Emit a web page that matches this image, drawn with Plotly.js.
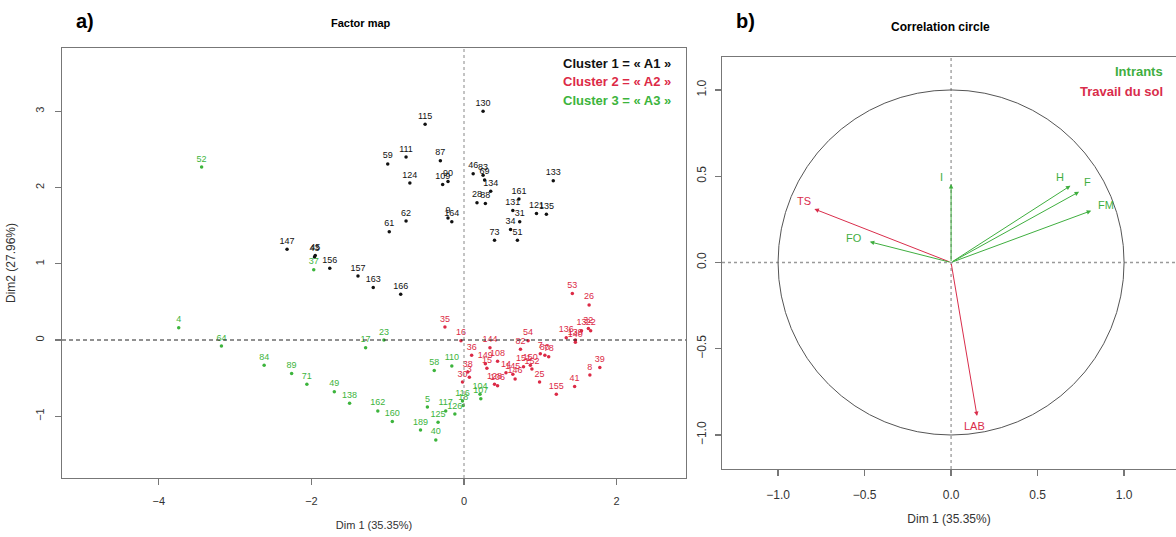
<!DOCTYPE html>
<html><head><meta charset="utf-8">
<script src="https://cdn.plot.ly/plotly-3.0.1.min.js"></script>
<style>html,body{margin:0;padding:0;background:#fff}#chart{width:1176px;height:537px}</style>
</head><body><div id="chart"></div>
<script>
// ---- Factor map: individuals per cluster ----
const c1Labels = ["147","43","45","156","157","163","166","59","61","62","111","115","87","124","109","90","9","164","130","46","83","69","134","28","88","161","131","31","34","51","73","121","135","133"];
const c1X = [-2.32,-1.96,-1.95,-1.76,-1.39,-1.19,-0.83,-1.00,-0.98,-0.76,-0.76,-0.51,-0.31,-0.71,-0.28,-0.21,-0.21,-0.16,0.25,0.12,0.25,0.27,0.35,0.17,0.28,0.72,0.64,0.73,0.61,0.70,0.40,0.95,1.08,1.17];
const c1Y = [1.19,1.09,1.11,0.94,0.84,0.69,0.60,2.31,1.42,1.56,2.40,2.83,2.35,2.06,2.04,2.08,1.60,1.55,3.00,2.18,2.16,2.10,1.95,1.80,1.79,1.85,1.70,1.55,1.45,1.31,1.31,1.66,1.65,2.09];

const c2Labels = ["53","26","35","16","36","144","54","82","149","108","15","38","30","3","14","145","146","106","128","150","151","152","7","78","80","25","155","41","8","39","13","32","22","136","139","140"];
const c2X = [1.42,1.64,-0.25,-0.04,0.10,0.34,0.84,0.74,0.28,0.44,0.30,0.05,-0.02,0.07,0.55,0.64,0.67,0.44,0.40,0.87,0.78,0.89,1.00,1.11,1.06,0.99,1.21,1.45,1.65,1.78,1.54,1.63,1.66,1.34,1.46,1.46];
const c2Y = [0.61,0.46,0.17,-0.01,-0.20,-0.10,-0.01,-0.12,-0.31,-0.28,-0.37,-0.42,-0.55,-0.49,-0.43,-0.45,-0.51,-0.60,-0.58,-0.33,-0.35,-0.38,-0.18,-0.22,-0.20,-0.55,-0.71,-0.61,-0.46,-0.36,0.12,0.15,0.12,0.03,0.00,-0.03];

const c3Labels = ["52","4","37","64","84","89","71","49","138","162","160","17","23","58","110","5","117","126","125","189","40","116","18","104","107"];
const c3X = [-3.44,-3.74,-1.97,-3.18,-2.62,-2.26,-2.06,-1.70,-1.50,-1.13,-0.94,-1.29,-1.05,-0.39,-0.16,-0.48,-0.24,-0.12,-0.34,-0.57,-0.37,-0.02,-0.01,0.21,0.22];
const c3Y = [2.27,0.16,0.92,-0.08,-0.33,-0.44,-0.58,-0.68,-0.83,-0.93,-1.07,-0.10,0.00,-0.40,-0.34,-0.88,-0.93,-0.97,-1.08,-1.18,-1.31,-0.80,-0.86,-0.71,-0.77];

const clusterNames = ["Cluster 1 = « A1 »","Cluster 2 = « A2 »","Cluster 3 = « A3 »"];

// ---- Correlation circle: variables ----
const varNames = ["I","H","F","FM","TS","FO","LAB"];
const varX = [0.00,0.69,0.74,0.81,-0.79,-0.47,0.15];
const varY = [0.455,0.445,0.41,0.30,0.31,0.12,-0.89];
const varGroup = ["Intrants","Intrants","Intrants","Intrants","Travail du sol","Intrants","Travail du sol"];
const groupNames = ["Intrants","Travail du sol"];

const xTicks1 = [-4,-2,0,2];
const yTicks1 = [-1,0,1,2,3];
const ticks2 = [-1.0,-0.5,0.0,0.5,1.0];

// ---- styles ----
const BLACK = "#111111", RED = "#dc2a46", GREEN = "#3cb43c";
const clusterColors = [BLACK, RED, GREEN];
const groupColors = {"Intrants": "#3fae3f", "Travail du sol": "#d92d4b"};
const FONT = "Liberation Sans, Arial, sans-serif";
// label offsets (pixels) for variable names, relative to arrow tip
const varLabelShift = [[-10,7],[-10,9],[8,10],[15,6],[-10,8],[-16,4],[-3,-10]];

function clusterTrace(labels, xs, ys, color) {
  return {
    type: "scatter", mode: "markers+text", x: xs, y: ys, text: labels,
    textposition: "top center",
    textfont: {family: FONT, size: 9, color: color},
    marker: {size: 3.5, color: color},
    xaxis: "x", yaxis: "y", hoverinfo: "text", showlegend: false, cliponaxis: false
  };
}

const traces = [
  clusterTrace(c1Labels, c1X, c1Y, clusterColors[0]),
  clusterTrace(c2Labels, c2X, c2Y, clusterColors[1]),
  clusterTrace(c3Labels, c3X, c3Y, clusterColors[2]),
  {type: "scatter", mode: "markers", x: [0], y: [0], marker: {size: 1, color: "rgba(0,0,0,0)"},
   xaxis: "x2", yaxis: "y2", showlegend: false, hoverinfo: "skip"}
];

const W = 1176, H = 537;
const px = v => v / W, py = v => 1 - v / H;

const annotations = [];
// panel tags and titles
annotations.push({xref:"paper", yref:"paper", x:px(85), y:py(21), text:"<b>a)</b>", showarrow:false,
  font:{family:FONT, size:20, color:"#000"}, xanchor:"center", yanchor:"middle"});
annotations.push({xref:"paper", yref:"paper", x:px(361), y:py(23), text:"<b>Factor map</b>", showarrow:false,
  font:{family:FONT, size:11, color:"#000"}, xanchor:"center", yanchor:"middle"});
annotations.push({xref:"paper", yref:"paper", x:px(745), y:py(21), text:"<b>b)</b>", showarrow:false,
  font:{family:FONT, size:20, color:"#000"}, xanchor:"center", yanchor:"middle"});
annotations.push({xref:"paper", yref:"paper", x:px(940), y:py(27), text:"<b>Correlation circle</b>", showarrow:false,
  font:{family:FONT, size:12, color:"#000"}, xanchor:"center", yanchor:"middle"});
// cluster legend
clusterNames.forEach((n, i) => {
  annotations.push({xref:"paper", yref:"paper", x:px(673), y:py(63 + 19 * i), text:"<b>" + n + "</b>",
    showarrow:false, font:{family:FONT, size:13, color:clusterColors[i]}, xanchor:"right", yanchor:"middle"});
});
// group legend
groupNames.forEach((g, i) => {
  annotations.push({xref:"paper", yref:"paper", x:px(1165), y:py(72 + 19 * i), text:"<b>" + g + "</b>",
    showarrow:false, font:{family:FONT, size:13, color:groupColors[g]}, xanchor:"right", yanchor:"middle"});
});
// variable arrows and labels
varNames.forEach((n, i) => {
  const col = groupColors[varGroup[i]];
  annotations.push({xref:"x2", yref:"y2", axref:"x2", ayref:"y2", x:varX[i], y:varY[i], ax:0, ay:0,
    text:"", showarrow:true, arrowhead:2, arrowsize:0.9, arrowwidth:1, arrowcolor:col});
  annotations.push({xref:"x2", yref:"y2", x:varX[i], y:varY[i], text:n, showarrow:false,
    xshift:varLabelShift[i][0], yshift:varLabelShift[i][1],
    font:{family:FONT, size:11, color:col}, xanchor:"center", yanchor:"middle"});
});

const shapes = [
  // left panel reference lines
  {type:"line", xref:"x", yref:"y domain", x0:0, x1:0, y0:0, y1:1, line:{color:"#888", width:1, dash:"dot"}},
  {type:"line", xref:"x domain", yref:"y", x0:0, x1:1, y0:0, y1:0, line:{color:"#222", width:1, dash:"4px,3px"}},
  // right panel reference lines
  {type:"line", xref:"x2", yref:"y2 domain", x0:0, x1:0, y0:0, y1:1, line:{color:"#999", width:1.3, dash:"dot"}},
  {type:"line", xref:"x2 domain", yref:"y2", x0:0, x1:1, y0:0, y1:0, line:{color:"#999", width:1.3, dash:"dot"}},
  // unit circle
  {type:"circle", xref:"x2", yref:"y2", x0:-1, x1:1, y0:-1, y1:1, line:{color:"#555", width:1}}
];

const axisCommon = {
  showgrid:false, zeroline:false, showline:true, linecolor:"#777", linewidth:1.2,
  ticks:"outside", ticklen:6, tickcolor:"#777", tickwidth:1.2,
  tickfont:{family:FONT, size:11, color:"#333"}, automargin:false, fixedrange:true
};

const layout = {
  width: W, height: H, margin:{l:0, r:0, t:0, b:0},
  paper_bgcolor:"#fff", plot_bgcolor:"#fff", showlegend:false,
  xaxis: Object.assign({}, axisCommon, {
    domain:[px(62), px(686)], range:[-5.27, 2.91], tickvals:xTicks1, mirror:true, ticklabelstandoff:7,
    title:{text:"Dim 1 (35.35%)", font:{family:FONT, size:11, color:"#333"}, standoff:14}, anchor:"y"
  }),
  yaxis: Object.assign({}, axisCommon, {
    domain:[1 - 478 / H, 1 - 48 / H], range:[-1.81, 3.83], tickvals:yTicks1, tickangle:-90, mirror:true,
    ticklabelstandoff:6,
    title:{text:"Dim2 (27.96%)", font:{family:FONT, size:12, color:"#333"}, standoff:16}, anchor:"x"
  }),
  xaxis2: Object.assign({}, axisCommon, {
    domain:[px(722), 1], range:[-1.324, 1.30], tickvals:ticks2, tickformat:".1f", mirror:true,
    ticklabelstandoff:8, tickfont:{family:FONT, size:12, color:"#333"},
    title:{text:"Dim 1 (35.35%)", font:{family:FONT, size:12, color:"#333"}, standoff:14}, anchor:"y2"
  }),
  yaxis2: Object.assign({}, axisCommon, {
    domain:[1 - 469 / H, 1 - 57 / H], range:[-1.197, 1.191], tickvals:ticks2, tickformat:".1f",
    tickangle:-90, mirror:false, ticklabelstandoff:4, tickfont:{family:FONT, size:12, color:"#333"},
    anchor:"x2"
  }),
  shapes: shapes,
  annotations: annotations
};

Plotly.newPlot("chart", traces, layout, {staticPlot:true, displayModeBar:false});
</script>
</body></html>
